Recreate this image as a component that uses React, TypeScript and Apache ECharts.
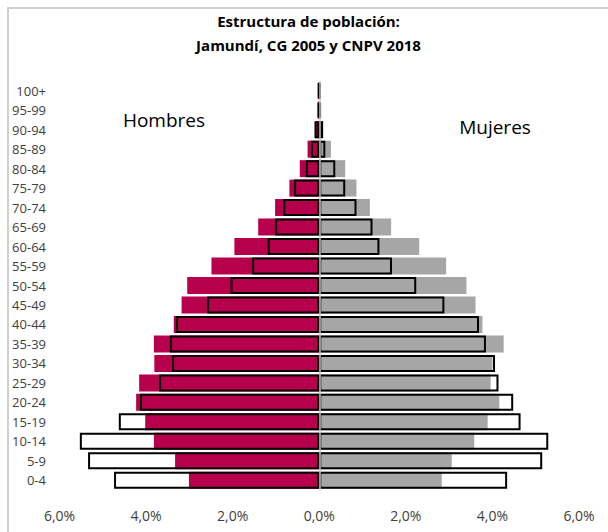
import React, { useEffect, useRef } from "react";
import * as echarts from "echarts";

const categories = ["0-4","5-9","10-14","15-19","20-24","25-29","30-34","35-39","40-44","45-49","50-54","55-59","60-64","65-69","70-74","75-79","80-84","85-89","90-94","95-99","100+"];

const men2018 = [3.01,3.33,3.82,4.02,4.23,4.16,3.81,3.82,3.36,3.18,3.05,2.49,1.96,1.41,1.02,0.69,0.45,0.27,0.09,0.03,0.02];
const women2018 = [2.83,3.06,3.58,3.89,4.16,3.96,4.0,4.26,3.77,3.61,3.4,2.93,2.31,1.66,1.17,0.86,0.6,0.27,0.08,0.03,0.02];
const men2005 = [4.74,5.34,5.53,4.63,4.14,3.7,3.4,3.45,3.31,2.59,2.05,1.55,1.19,1.02,0.83,0.58,0.31,0.19,0.11,0.04,0.03];
const women2005 = [4.34,5.15,5.29,4.65,4.48,4.14,4.06,3.85,3.69,2.89,2.24,1.68,1.39,1.23,0.86,0.6,0.37,0.14,0.09,0.04,0.03];

const xTicks = { min: -6, max: 6, interval: 2 };
const titleLines = ["Estructura de población:", "Jamundí, CG 2005 y CNPV 2018"];

const FONT = "'Open Sans', 'Noto Sans', sans-serif";

export default function App() {
  const ref = useRef<HTMLDivElement>(null);
  useEffect(() => {
    if (!ref.current) return;
    const chart = echarts.init(ref.current, null, { renderer: "svg" });
    const barW = 17;
    chart.setOption({
      animation: false,
      backgroundColor: "#fff",
      textStyle: { fontFamily: FONT },
      grid: { left: 59.5, right: 29, top: 81, bottom: 42, containLabel: false },
      xAxis: {
        type: "value",
        min: xTicks.min,
        max: xTicks.max,
        interval: xTicks.interval,
        axisLine: { show: false },
        axisTick: { show: false },
        splitLine: { show: false },
        axisLabel: {
          color: "#404040",
          fontSize: 14,
          fontFamily: FONT,
          margin: 18,
          formatter: (v: number) => Math.abs(v).toFixed(1).replace(".", ",") + "%",
        },
      },
      yAxis: {
        type: "category",
        data: categories,
        axisLine: { show: false },
        axisTick: { show: false },
        axisLabel: { color: "#404040", fontSize: 13, fontFamily: FONT, margin: 13.5 },
      },
      series: [
        {
          name: "Hombres 2018",
          type: "bar",
          stack: "a",
          barWidth: barW,
          barGap: "-100%",
          data: men2018.map((v) => -v),
          itemStyle: { color: "#B7004C" },
        },
        {
          name: "Mujeres 2018",
          type: "bar",
          stack: "a",
          barWidth: barW,
          barGap: "-100%",
          data: women2018,
          itemStyle: { color: "#A6A6A6" },
          markLine: {
            silent: true,
            symbol: "none",
            label: { show: false },
            lineStyle: { color: "#BFBFBF", width: 1.5, type: "solid" },
            data: [{ xAxis: 0 }],
            z: 10,
          },
        },
        {
          name: "Hombres 2005",
          type: "bar",
          stack: "b",
          barWidth: barW,
          barGap: "-100%",
          data: men2005.map((v) => -v),
          itemStyle: { color: "rgba(0,0,0,0)", borderColor: "#000", borderWidth: 2 },
          z: 3,
        },
        {
          name: "Mujeres 2005",
          type: "bar",
          stack: "b",
          barWidth: barW,
          barGap: "-100%",
          data: women2005,
          itemStyle: { color: "rgba(0,0,0,0)", borderColor: "#000", borderWidth: 2 },
          z: 3,
        },
      ],
      graphic: [
        {
          type: "polyline",
          z: 100,
          silent: true,
          shape: { points: [[8, 540], [8, 8], [620, 8]] },
          style: { fill: null, stroke: "#D0D0D0", lineWidth: 2 },
        },
        {
          type: "text",
          x: 308.5,
          y: 21,
          style: {
            text: titleLines[0],
            textAlign: "center",
            textVerticalAlign: "middle",
            font: `bold 15px ${FONT}`,
            fill: "#000",
          },
        },
        {
          type: "text",
          x: 308.5,
          y: 45,
          style: {
            text: titleLines[1],
            textAlign: "center",
            textVerticalAlign: "middle",
            font: `bold 15px ${FONT}`,
            fill: "#000",
          },
        },
        {
          type: "text",
          x: 164,
          y: 120,
          style: {
            text: "Hombres",
            textAlign: "center",
            textVerticalAlign: "middle",
            font: `19px ${FONT}`,
            fill: "#000",
          },
        },
        {
          type: "text",
          x: 495,
          y: 127,
          style: {
            text: "Mujeres",
            textAlign: "center",
            textVerticalAlign: "middle",
            font: `19px ${FONT}`,
            fill: "#000",
          },
        },
      ],
    });
    return () => chart.dispose();
  }, []);
  return (
    <div
      ref={ref}
      style={{ position: "fixed", left: 0, top: 0, width: 608, height: 532 }}
    />
  );
}
